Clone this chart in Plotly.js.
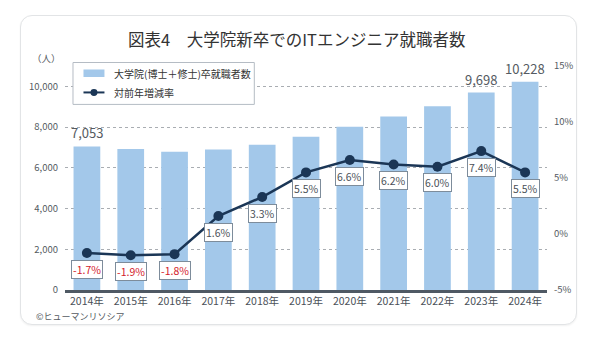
<!DOCTYPE html>
<html>
<head>
<meta charset="utf-8">
<script src="https://cdn.plot.ly/plotly-3.0.1.min.js"></script>
<style>
  html, body { margin: 0; padding: 0; background: #ffffff; }
  #wrap { position: relative; width: 590px; height: 347px; }
  #card {
    position: absolute; left: 20px; top: 15px; width: 555px; height: 308px;
    border: 1.5px solid #e2e4e6; border-radius: 12px; background: #ffffff;
    box-shadow: 0 1px 2px rgba(0,0,0,0.06);
  }
  #chart { position: absolute; left: 0; top: 0; width: 590px; height: 347px; }
</style>
</head>
<body>
<div id="wrap">
  <div id="card"></div>
  <div id="chart"></div>
</div>
<script>
// 大学院（博士＋修士）卒 ITエンジニア就職者数と対前年増減率
const years = ['2014年','2015年','2016年','2017年','2018年','2019年','2020年','2021年','2022年','2023年','2024年'];
const graduates = [7053, 6919, 6794, 6903, 7131, 7523, 8020, 8517, 9028, 9698, 10228];
const growthRates = [-1.7, -1.9, -1.8, 1.6, 3.3, 5.5, 6.6, 6.2, 6.0, 7.4, 5.5];
const labelledYears = ['2014年', '2023年', '2024年'];
const leftTicks = [0, 2000, 4000, 6000, 8000, 10000];
const rightTicks = [-5, 0, 5, 10, 15];

const W = 590, H = 347;
const M = { l: 64.5, r: 43, t: 65.5, b: 57 };
const plotW = W - M.l - M.r, plotH = H - M.t - M.b;
const px = v => (v - M.l) / plotW;          // pixel x -> paper x
const py = v => (H - M.b - v) / plotH;      // pixel y -> paper y

const FONT = '"Noto Sans CJK JP", "Noto Sans", sans-serif';
const BAR_COLOR = '#a3c8ea';
const LINE_COLOR = '#1b3656';
const fmt = n => n.toLocaleString('en-US');

const bars = {
  type: 'bar', x: years, y: graduates, yaxis: 'y',
  marker: { color: BAR_COLOR }, hoverinfo: 'skip', name: '大学院(博士＋修士)卒就職者数'
};
const line = {
  type: 'scatter', mode: 'lines+markers', x: years, y: growthRates, yaxis: 'y2',
  line: { color: LINE_COLOR, width: 2.5 },
  marker: { color: LINE_COLOR, size: 10 }, hoverinfo: 'skip', name: '対前年増減率'
};

const annotations = [];
// 就職者数ラベル
years.forEach((yr, i) => {
  if (!labelledYears.includes(yr)) return;
  annotations.push({
    x: yr, y: graduates[i], xref: 'x', yref: 'y', text: fmt(graduates[i]),
    showarrow: false, yanchor: 'bottom', yshift: 2,
    font: { family: FONT, size: 13, color: '#555b62' }
  });
});
// 増減率ラベル
years.forEach((yr, i) => {
  const r = growthRates[i];
  annotations.push({
    x: yr, y: r, xref: 'x', yref: 'y2', text: r.toFixed(1) + '%',
    showarrow: false, yshift: -16,
    bgcolor: '#ffffff', bordercolor: '#7d8c9b', borderwidth: 1, borderpad: 1,
    font: { family: FONT, size: 10.5, color: r < 0 ? '#d3202a' : '#4a5058' }
  });
});
// ページ座標に置くテキスト
const pageText = (x, y, text, size, color, xanchor) => ({
  xref: 'paper', yref: 'paper', x: px(x), y: py(y), text: text,
  showarrow: false, xanchor: xanchor || 'center', yanchor: 'middle',
  font: { family: FONT, size: size, color: color }
});
annotations.push(
  pageText(296, 38, '図表4　大学院新卒でのITエンジニア就職者数', 16.5, '#333333'),
  pageText(46, 57, '（人）', 9.5, '#555b62'),
  pageText(33, 316.5, '©ヒューマンリソシア', 9, '#555b62', 'left'),
  // 凡例テキスト
  pageText(112, 73, '大学院(博士＋修士)卒就職者数', 10, '#333333', 'left'),
  pageText(112, 92, '対前年増減率', 10, '#333333', 'left')
);

// 凡例の枠とシンボル
const shapes = [
  { type: 'rect', xref: 'paper', yref: 'paper', x0: px(72.5), x1: px(254), y0: py(62), y1: py(104),
    line: { color: '#b5bcc4', width: 1 }, fillcolor: '#ffffff', layer: 'above' },
  { type: 'rect', xref: 'paper', yref: 'paper', x0: px(83), x1: px(104), y0: py(69), y1: py(76.5),
    line: { width: 0 }, fillcolor: BAR_COLOR, layer: 'above' },
  { type: 'line', xref: 'paper', yref: 'paper', x0: px(83), x1: px(104), y0: py(92), y1: py(92),
    line: { color: LINE_COLOR, width: 2 }, layer: 'above' },
  { type: 'circle', xref: 'paper', yref: 'paper', x0: px(90), x1: px(97), y0: py(88.5), y1: py(95.5),
    line: { width: 0 }, fillcolor: LINE_COLOR, layer: 'above' }
];

const layout = {
  width: W, height: H,
  margin: M,
  paper_bgcolor: 'rgba(0,0,0,0)', plot_bgcolor: 'rgba(0,0,0,0)',
  showlegend: false,
  bargap: 0.39,
  font: { family: FONT, color: '#555b62' },
  xaxis: {
    type: 'category', range: [-0.5, 10.5], fixedrange: true,
    showline: true, linecolor: '#4f5964', linewidth: 2.5,
    ticks: '', tickfont: { family: FONT, size: 10.5, color: '#4a5058' }
  },
  yaxis: {
    range: [0, 11000], tickvals: leftTicks, ticktext: leftTicks.map(fmt),
    showgrid: true, gridcolor: '#a9adb2', gridwidth: 1, griddash: '3px,3px',
    zeroline: false, showline: false, ticks: '',
    tickfont: { family: FONT, size: 9.5, color: '#555b62' }, ticklabelstandoff: 6
  },
  yaxis2: {
    overlaying: 'y', side: 'right', range: [-5, 15],
    tickvals: rightTicks, ticktext: rightTicks.map(v => v + '%'),
    showgrid: false, zeroline: false, showline: false, ticks: '',
    tickfont: { family: FONT, size: 9.5, color: '#555b62' }, ticklabelstandoff: 6
  },
  annotations: annotations,
  shapes: shapes
};

Plotly.newPlot('chart', [bars, line], layout, { staticPlot: true, displayModeBar: false });
</script>
</body>
</html>
